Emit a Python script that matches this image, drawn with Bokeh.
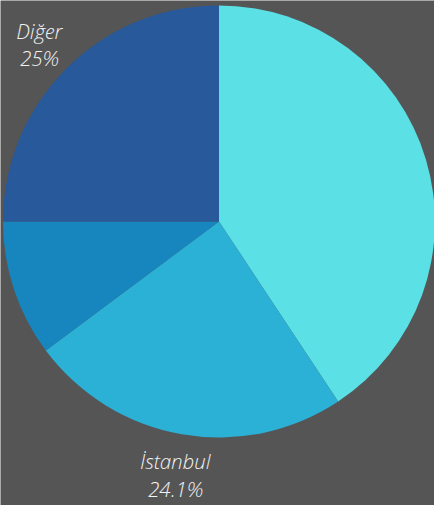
import math
from bokeh.plotting import figure
from bokeh.models import Range1d, ColumnDataSource
from bokeh.core.properties import value
from bokeh.embed import file_html
from bokeh.resources import INLINE

# ---- data ----
categories = ["Diğer şehirler A", "İstanbul", "Diğer şehirler B", "Diğer"]
shares = [40.7, 24.1, 10.2, 25.0]
pct_labels = ["40.7%", "24.1%", "10.2%", "25%"]
colors = ["#5ae0e5", "#2bb1d6", "#1886be", "#27599b"]
show_label = [False, True, False, True]

# ---- geometry: data units are reference pixels, scaled to fit ----
W, H = 434, 505
REF_W = 442.0
s = W / REF_W
cx, cy = 222.5, -225.0
R = 220.0
RL = 259.0

total = sum(shares)
starts, ends, mids = [], [], []
cum = 0.0
for v in shares:
    a0 = math.pi / 2 - 2 * math.pi * cum / total
    cum += v
    a1 = math.pi / 2 - 2 * math.pi * cum / total
    starts.append(a0)
    ends.append(a1)
    mids.append((a0 + a1) / 2)

src = ColumnDataSource(dict(start=starts, end=ends, color=colors))

p = figure(width=W, height=H, output_backend="svg", toolbar_location=None,
           x_range=Range1d(0, W / s), y_range=Range1d(-H / s, 0),
           min_border=0, background_fill_color="#555555",
           border_fill_color="#555555", outline_line_color=None)
p.axis.visible = False
p.grid.visible = False

p.wedge(x=cx, y=cy, radius=R, start_angle="start", end_angle="end",
        direction="clock", fill_color="color", line_color=None, source=src)

lx, ly, names, pcts = [], [], [], []
for i, m in enumerate(mids):
    if show_label[i]:
        lx.append(cx + RL * math.cos(m))
        ly.append(cy + RL * math.sin(m))
        names.append(categories[i])
        pcts.append(pct_labels[i])

lsrc = ColumnDataSource(dict(x=lx, y=ly, name=names, pct=pcts))
common = dict(text_font=value('"Open Sans Light", "Open Sans"'), text_font_style="italic",
              text_font_size=f"{21 * s:.1f}px", text_color="#f2f2f2",
              text_align="center", text_baseline="alphabetic", source=lsrc)
p.text(x="x", y="y", text="name", y_offset=-11 * s, **common)
p.text(x="x", y="y", text="pct", y_offset=17 * s, **common)

open("out.html", "w").write(file_html(p, INLINE))
